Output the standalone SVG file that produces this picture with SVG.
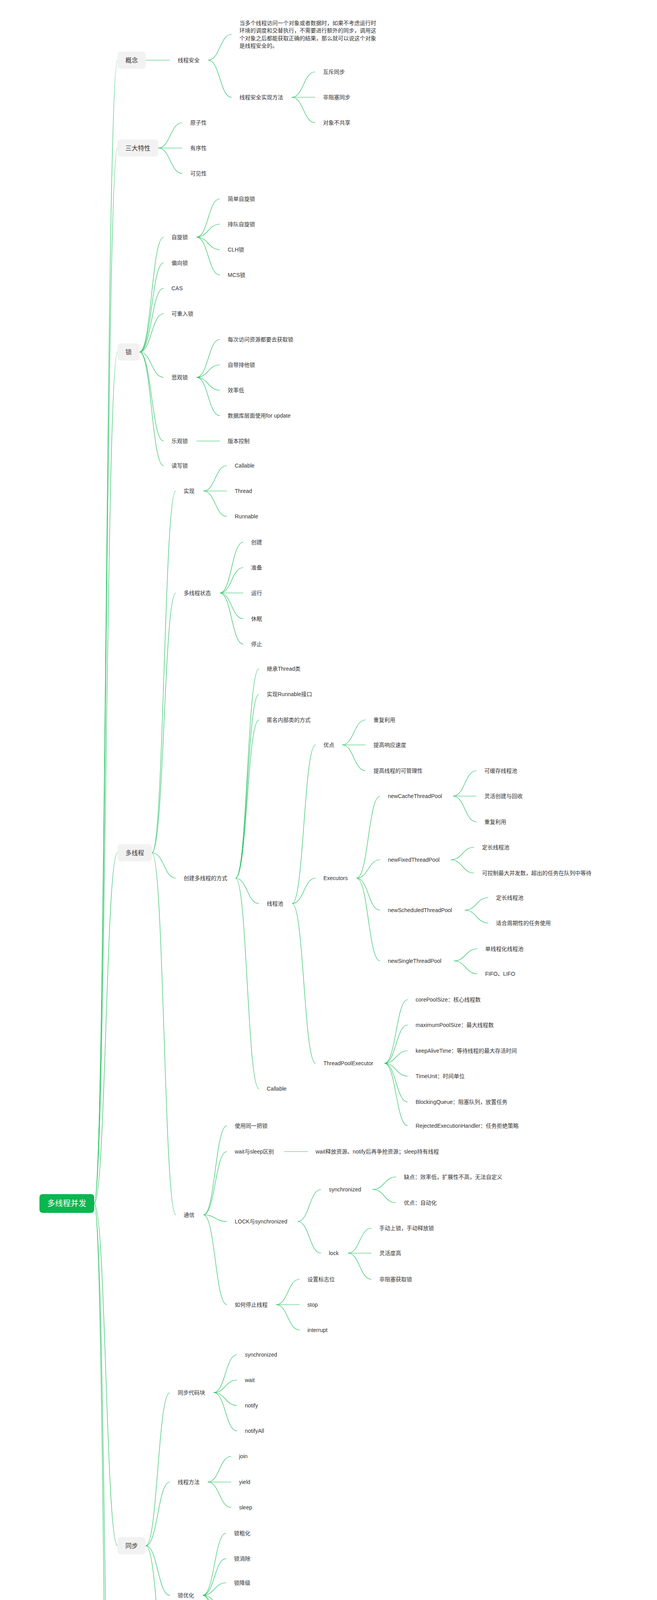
<svg xmlns="http://www.w3.org/2000/svg" width="1682" height="6107" viewBox="0 0 1682 6107">
<style>
text{font-family:"Liberation Sans","Noto Sans CJK SC",sans-serif;font-size:14px;fill:#333;dominant-baseline:central}
.box{fill:#f2f2f2}
.bt{font-size:16px}
.root{fill:#0bb650}
.rt{font-size:20px;fill:#fff}
#connectors path{fill:none;stroke:#22c05e;stroke-width:1.2}
</style>
<rect width="1682" height="6107" fill="#fff"/>
<g id="connectors">
<path d="M241 3081C271 3081 271 154 301 154"/>
<path d="M241 3081C271 3081 271 379 301 379"/>
<path d="M241 3081C271 3081 271 901 301 901"/>
<path d="M241 3081C271 3081 271 2183 301 2183"/>
<path d="M241 3081C271 3081 271 3957 301 3957"/>
<path d="M241 3081C271 3081 271 5255 301 5255"/>
<path d="M241 3081C271 3081 271 5995 301 5995"/>
<path d="M373 154H435"/>
<path d="M533 154C563 154 563 88 593 88"/>
<path d="M533 154C563 154 563 249 593 249"/>
<path d="M747 249C777 249 777 184 807 184"/>
<path d="M747 249H807"/>
<path d="M747 249C777 249 777 314 807 314"/>
<path d="M405 379C436 379 436 314 467 314"/>
<path d="M405 379H467"/>
<path d="M405 379C436 379 436 444 467 444"/>
<path d="M357 901C388 901 388 607 419 607"/>
<path d="M357 901C388 901 388 673 419 673"/>
<path d="M357 901C388 901 388 738 419 738"/>
<path d="M357 901C388 901 388 803 419 803"/>
<path d="M357 901C388 901 388 966 419 966"/>
<path d="M357 901C388 901 388 1129 419 1129"/>
<path d="M357 901C388 901 388 1192 419 1192"/>
<path d="M503 607C533 607 533 509 563 509"/>
<path d="M503 607C533 607 533 574 563 574"/>
<path d="M503 607C533 607 533 639 563 639"/>
<path d="M503 607C533 607 533 704 563 704"/>
<path d="M503 966C533 966 533 869 563 869"/>
<path d="M503 966C533 966 533 934 563 934"/>
<path d="M503 966C533 966 533 999 563 999"/>
<path d="M503 966C533 966 533 1064 563 1064"/>
<path d="M503 1129H563"/>
<path d="M389 2183C420 2183 420 1257 450 1257"/>
<path d="M389 2183C420 2183 420 1518 450 1518"/>
<path d="M389 2183C420 2183 420 2248 450 2248"/>
<path d="M389 2183C420 2183 420 3110 450 3110"/>
<path d="M521 1257C551 1257 551 1192 581 1192"/>
<path d="M521 1257H581"/>
<path d="M521 1257C551 1257 551 1322 581 1322"/>
<path d="M563 1518C593 1518 593 1388 623 1388"/>
<path d="M563 1518C593 1518 593 1453 623 1453"/>
<path d="M563 1518H623"/>
<path d="M563 1518C593 1518 593 1584 623 1584"/>
<path d="M563 1518C593 1518 593 1649 623 1649"/>
<path d="M603 2248C633 2248 633 1712 663 1712"/>
<path d="M603 2248C633 2248 633 1777 663 1777"/>
<path d="M603 2248C633 2248 633 1843 663 1843"/>
<path d="M603 2248C633 2248 633 2313 663 2313"/>
<path d="M603 2248C633 2248 633 2787 663 2787"/>
<path d="M748 2313C778 2313 778 1907 808 1907"/>
<path d="M748 2313C778 2313 778 2248 808 2248"/>
<path d="M748 2313C778 2313 778 2722 808 2722"/>
<path d="M876 1907C906 1907 906 1843 936 1843"/>
<path d="M876 1907H936"/>
<path d="M876 1907C906 1907 906 1973 936 1973"/>
<path d="M913 2248C943 2248 943 2038 973 2038"/>
<path d="M913 2248C943 2248 943 2201 973 2201"/>
<path d="M913 2248C943 2248 943 2330 973 2330"/>
<path d="M913 2248C943 2248 943 2460 973 2460"/>
<path d="M1160 2038C1190 2038 1190 1973 1220 1973"/>
<path d="M1160 2038H1220"/>
<path d="M1160 2038C1190 2038 1190 2104 1220 2104"/>
<path d="M1154 2201C1184 2201 1184 2169 1214 2169"/>
<path d="M1154 2201C1184 2201 1184 2235 1214 2235"/>
<path d="M1190 2330C1220 2330 1220 2298 1250 2298"/>
<path d="M1190 2330C1220 2330 1220 2363 1250 2363"/>
<path d="M1162 2460C1192 2460 1192 2429 1222 2429"/>
<path d="M1162 2460C1192 2460 1192 2493 1222 2493"/>
<path d="M984 2722C1014 2722 1014 2559 1044 2559"/>
<path d="M984 2722C1014 2722 1014 2624 1044 2624"/>
<path d="M984 2722C1014 2722 1014 2690 1044 2690"/>
<path d="M984 2722C1014 2722 1014 2755 1044 2755"/>
<path d="M984 2722C1014 2722 1014 2821 1044 2821"/>
<path d="M984 2722C1014 2722 1014 2882 1044 2882"/>
<path d="M521 3110C551 3110 551 2882 581 2882"/>
<path d="M521 3110C551 3110 551 2948 581 2948"/>
<path d="M521 3110C551 3110 551 3127 581 3127"/>
<path d="M521 3110C551 3110 551 3340 581 3340"/>
<path d="M728 2948H788"/>
<path d="M762 3127C792 3127 792 3045 822 3045"/>
<path d="M762 3127C792 3127 792 3208 822 3208"/>
<path d="M954 3045C984 3045 984 3013 1014 3013"/>
<path d="M954 3045C984 3045 984 3079 1014 3079"/>
<path d="M891 3208C921 3208 921 3144 951 3144"/>
<path d="M891 3208H951"/>
<path d="M891 3208C921 3208 921 3275 951 3275"/>
<path d="M707 3340C737 3340 737 3275 767 3275"/>
<path d="M707 3340H767"/>
<path d="M707 3340C737 3340 737 3405 767 3405"/>
<path d="M373 3957C404 3957 404 3565 435 3565"/>
<path d="M373 3957C404 3957 404 3794 435 3794"/>
<path d="M373 3957C404 3957 404 4084 435 4084"/>
<path d="M373 3957C404 3957 404 4346 435 4346"/>
<path d="M547 3565C577 3565 577 3468 607 3468"/>
<path d="M547 3565C577 3565 577 3533 607 3533"/>
<path d="M547 3565C577 3565 577 3598 607 3598"/>
<path d="M547 3565C577 3565 577 3663 607 3663"/>
<path d="M532 3794C562 3794 562 3728 592 3728"/>
<path d="M532 3794H592"/>
<path d="M532 3794C562 3794 562 3859 592 3859"/>
<path d="M519 4084C549 4084 549 3925 579 3925"/>
<path d="M519 4084C549 4084 549 3990 579 3990"/>
<path d="M519 4084C549 4084 549 4052 579 4052"/>
<path d="M519 4084C549 4084 549 4117 579 4117"/>
<path d="M519 4084C549 4084 549 4183 579 4183"/>
<path d="M519 4084C549 4084 549 4248 579 4248"/>
<path d="M525 4346C555 4346 555 4314 585 4314"/>
<path d="M525 4346C555 4346 555 4379 585 4379"/>
<path d="M371 5255C401 5255 401 4572 432 4572"/>
<path d="M371 5255C401 5255 401 4866 432 4866"/>
<path d="M371 5255C401 5255 401 5125 432 5125"/>
<path d="M371 5255C401 5255 401 5288 432 5288"/>
<path d="M371 5255C401 5255 401 5599 432 5599"/>
<path d="M371 5255C401 5255 401 5928 432 5928"/>
<path d="M532 4572C562 4572 562 4444 592 4444"/>
<path d="M532 4572C562 4572 562 4510 592 4510"/>
<path d="M532 4572H592"/>
<path d="M532 4572C562 4572 562 4638 592 4638"/>
<path d="M532 4572C562 4572 562 4703 592 4703"/>
<path d="M545 4866C575 4866 575 4768 605 4768"/>
<path d="M545 4866C575 4866 575 4834 605 4834"/>
<path d="M545 4866C575 4866 575 4899 605 4899"/>
<path d="M545 4866C575 4866 575 4964 605 4964"/>
<path d="M688 4768H748"/>
<path d="M892 4768C922 4768 922 4735 952 4735"/>
<path d="M892 4768C922 4768 922 4800 952 4800"/>
<path d="M508 5125C538 5125 538 5030 568 5030"/>
<path d="M508 5125C538 5125 538 5093 568 5093"/>
<path d="M508 5125C538 5125 538 5157 568 5157"/>
<path d="M508 5125C538 5125 538 5223 568 5223"/>
<path d="M508 5599C538 5599 538 5354 568 5354"/>
<path d="M508 5599C538 5599 538 5484 568 5484"/>
<path d="M508 5599C538 5599 538 5643 568 5643"/>
<path d="M508 5599C538 5599 538 5706 568 5706"/>
<path d="M508 5599C538 5599 538 5770 568 5770"/>
<path d="M508 5599C538 5599 538 5833 568 5833"/>
<path d="M726 5354C756 5354 756 5321 786 5321"/>
<path d="M726 5354C756 5354 756 5386 786 5386"/>
<path d="M691 5484C721 5484 721 5452 751 5452"/>
<path d="M691 5484C721 5484 721 5516 751 5516"/>
<path d="M686 5643C716 5643 716 5582 746 5582"/>
<path d="M686 5643H746"/>
<path d="M686 5643C716 5643 716 5706 746 5706"/>
<path d="M502 5928C532 5928 532 5896 562 5896"/>
<path d="M502 5928C532 5928 532 5960 562 5960"/>
</g>
<g id="root"><rect class="root" x="101" y="3057" width="140" height="48" rx="8"/><text class="rt" x="121" y="3081">多线程并发</text></g>
<g id="gainian"><rect class="box" x="301" y="132" width="72" height="44" rx="8"/><text class="bt" x="321" y="154">概念</text></g>
<g id="sanda"><rect class="box" x="301" y="357" width="104" height="44" rx="8"/><text class="bt" x="321" y="379">三大特性</text></g>
<g id="suo"><rect class="box" x="301" y="879" width="56" height="44" rx="8"/><text class="bt" x="321" y="901">锁</text></g>
<g id="duoxiancheng"><rect class="box" x="301" y="2161" width="88" height="44" rx="8"/><text class="bt" x="321" y="2183">多线程</text></g>
<g id="tongbu"><rect class="box" x="301" y="3935" width="72" height="44" rx="8"/><text class="bt" x="321" y="3957">同步</text></g>
<g id="juc"><rect class="box" x="301" y="5233" width="70" height="44" rx="8"/><text class="bt" x="321" y="5255">JUC</text></g>
<g id="xinzeng"><rect class="box" x="301" y="5973" width="104" height="44" rx="8"/><text class="bt" x="321" y="5995">新增节点</text></g>
<g id="n-xcaq"><text x="455" y="154">线程安全</text></g>
<g id="n-def"><text x="613" y="59">当多个线程访问一个对象或者数据时，如果不考虑运行时</text><text x="613" y="78">环境的调度和交替执行，不需要进行额外的同步，调用这</text><text x="613" y="98">个对象之后都能获取正确的结果，那么就可以说这个对象</text><text x="613" y="117">是线程安全的。</text></g>
<g id="n-sxff"><text x="613" y="249">线程安全实现方法</text></g>
<g id="n-hctb"><text x="827" y="184">互斥同步</text></g>
<g id="n-fzstb"><text x="827" y="249">非阻塞同步</text></g>
<g id="n-dxbgx"><text x="827" y="314">对象不共享</text></g>
<g id="n-yzx"><text x="487" y="314">原子性</text></g>
<g id="n-yxx"><text x="487" y="379">有序性</text></g>
<g id="n-kjx"><text x="487" y="444">可见性</text></g>
<g id="n-zxs"><text x="439" y="607">自旋锁</text></g>
<g id="n-pxs"><text x="439" y="673">偏向锁</text></g>
<g id="n-cas"><text x="439" y="738">CAS</text></g>
<g id="n-kcrs"><text x="439" y="803">可重入锁</text></g>
<g id="n-bgs"><text x="439" y="966">悲观锁</text></g>
<g id="n-lgs"><text x="439" y="1129">乐观锁</text></g>
<g id="n-dxs"><text x="439" y="1192">读写锁</text></g>
<g id="n-jdzxs"><text x="583" y="509">简单自旋锁</text></g>
<g id="n-pdzxs"><text x="583" y="574">排队自旋锁</text></g>
<g id="n-clh"><text x="583" y="639">CLH锁</text></g>
<g id="n-mcs"><text x="583" y="704">MCS锁</text></g>
<g id="n-mcfw"><text x="583" y="869">每次访问资源都要去获取锁</text></g>
<g id="n-zdpts"><text x="583" y="934">自带排他锁</text></g>
<g id="n-xld"><text x="583" y="999">效率低</text></g>
<g id="n-sjk"><text x="583" y="1064">数据库层面使用for update</text></g>
<g id="n-bbkz"><text x="583" y="1129">版本控制</text></g>
<g id="n-sx1"><text x="470" y="1257">实现</text></g>
<g id="n-dxczt"><text x="470" y="1518">多线程状态</text></g>
<g id="n-cjfs"><text x="470" y="2248">创建多线程的方式</text></g>
<g id="n-tx"><text x="470" y="3110">通信</text></g>
<g id="n-callable1"><text x="601" y="1192">Callable</text></g>
<g id="n-thread"><text x="601" y="1257">Thread</text></g>
<g id="n-runnable"><text x="601" y="1322">Runnable</text></g>
<g id="n-cj"><text x="643" y="1388">创建</text></g>
<g id="n-zb"><text x="643" y="1453">准备</text></g>
<g id="n-yx"><text x="643" y="1518">运行</text></g>
<g id="n-xm"><text x="643" y="1584">休眠</text></g>
<g id="n-tz"><text x="643" y="1649">停止</text></g>
<g id="n-jc"><text x="683" y="1712">继承Thread类</text></g>
<g id="n-sxr"><text x="683" y="1777">实现Runnable接口</text></g>
<g id="n-nmnb"><text x="683" y="1843">匿名内部类的方式</text></g>
<g id="n-xcc"><text x="683" y="2313">线程池</text></g>
<g id="n-callable2"><text x="683" y="2787">Callable</text></g>
<g id="n-yd"><text x="828" y="1907">优点</text></g>
<g id="n-executors1"><text x="828" y="2248">Executors</text></g>
<g id="n-tpe"><text x="828" y="2722">ThreadPoolExecutor</text></g>
<g id="n-cfly1"><text x="956" y="1843">重复利用</text></g>
<g id="n-tgxy"><text x="956" y="1907">提高响应速度</text></g>
<g id="n-tgkgl"><text x="956" y="1973">提高线程的可管理性</text></g>
<g id="n-ncache"><text x="993" y="2038">newCacheThreadPool</text></g>
<g id="n-nfixed"><text x="993" y="2201">newFixedThreadPool</text></g>
<g id="n-nsched"><text x="993" y="2330">newScheduledThreadPool</text></g>
<g id="n-nsingle"><text x="993" y="2460">newSingleThreadPool</text></g>
<g id="n-khc"><text x="1240" y="1973">可缓存线程池</text></g>
<g id="n-lhcj"><text x="1240" y="2038">灵活创建与回收</text></g>
<g id="n-cfly2"><text x="1240" y="2104">重复利用</text></g>
<g id="n-dc1"><text x="1234" y="2169">定长线程池</text></g>
<g id="n-kkz"><text x="1234" y="2235">可控制最大并发数，超出的任务在队列中等待</text></g>
<g id="n-dc2"><text x="1270" y="2298">定长线程池</text></g>
<g id="n-shzq"><text x="1270" y="2363">适合周期性的任务使用</text></g>
<g id="n-dxch"><text x="1242" y="2429">单线程化线程池</text></g>
<g id="n-fifo"><text x="1242" y="2493">FIFO、LIFO</text></g>
<g id="n-core"><text x="1064" y="2559">corePoolSize：核心线程数</text></g>
<g id="n-max"><text x="1064" y="2624">maximumPoolSize：最大线程数</text></g>
<g id="n-keep"><text x="1064" y="2690">keepAliveTime：等待线程的最大存活时间</text></g>
<g id="n-tu"><text x="1064" y="2755">TimeUnit：时间单位</text></g>
<g id="n-bq1"><text x="1064" y="2821">BlockingQueue：阻塞队列，放置任务</text></g>
<g id="n-reh1"><text x="1064" y="2882">RejectedExecutionHandler：任务拒绝策略</text></g>
<g id="n-sytyb"><text x="601" y="2882">使用同一把锁</text></g>
<g id="n-wsqb"><text x="601" y="2948">wait与sleep区别</text></g>
<g id="n-lock-sync"><text x="601" y="3127">LOCK与synchronized</text></g>
<g id="n-rhtz"><text x="601" y="3340">如何停止线程</text></g>
<g id="n-wsfz"><text x="808" y="2948">wait释放资源、notify后再争抢资源；sleep持有线程</text></g>
<g id="n-sync1"><text x="842" y="3045">synchronized</text></g>
<g id="n-lock"><text x="842" y="3208">lock</text></g>
<g id="n-qd"><text x="1034" y="3013">缺点：效率低，扩展性不高，无法自定义</text></g>
<g id="n-ydzd"><text x="1034" y="3079">优点：自动化</text></g>
<g id="n-sdss"><text x="971" y="3144">手动上锁，手动释放锁</text></g>
<g id="n-lhdg"><text x="971" y="3208">灵活度高</text></g>
<g id="n-fzshq"><text x="971" y="3275">非阻塞获取锁</text></g>
<g id="n-szbzw"><text x="787" y="3275">设置标志位</text></g>
<g id="n-stop"><text x="787" y="3340">stop</text></g>
<g id="n-interrupt"><text x="787" y="3405">interrupt</text></g>
<g id="n-tbdmk"><text x="455" y="3565">同步代码块</text></g>
<g id="n-xcff"><text x="455" y="3794">线程方法</text></g>
<g id="n-syh"><text x="455" y="4084">锁优化</text></g>
<g id="n-volatile"><text x="455" y="4346">volatile</text></g>
<g id="n-sync2"><text x="627" y="3468">synchronized</text></g>
<g id="n-wait"><text x="627" y="3533">wait</text></g>
<g id="n-notify"><text x="627" y="3598">notify</text></g>
<g id="n-notifyall"><text x="627" y="3663">notifyAll</text></g>
<g id="n-join"><text x="612" y="3728">join</text></g>
<g id="n-yield"><text x="612" y="3794">yield</text></g>
<g id="n-sleep"><text x="612" y="3859">sleep</text></g>
<g id="n-scx"><text x="599" y="3925">锁粗化</text></g>
<g id="n-sxc"><text x="599" y="3990">锁消除</text></g>
<g id="n-sjj"><text x="599" y="4052">锁降级</text></g>
<g id="n-pxs2"><text x="599" y="4117">偏向锁</text></g>
<g id="n-zxzsy"><text x="599" y="4183">自旋锁、自适应锁</text></g>
<g id="n-zljs"><text x="599" y="4248">重量级锁</text></g>
<g id="n-tgnc"><text x="605" y="4314">通过内存屏障实现</text></g>
<g id="n-zbz"><text x="605" y="4379">只保证有序、可见，不保证原子性</text></g>
<g id="n-executor"><text x="452" y="4572">executor</text></g>
<g id="n-collections"><text x="452" y="4866">collections</text></g>
<g id="n-locks"><text x="452" y="5125">locks</text></g>
<g id="n-atomicy"><text x="452" y="5288">atomicy原子类相关</text></g>
<g id="n-tools"><text x="452" y="5599">tools</text></g>
<g id="n-sx2"><text x="452" y="5928">实现</text></g>
<g id="n-future"><text x="612" y="4444">Future</text></g>
<g id="n-callable3"><text x="612" y="4510">Callable</text></g>
<g id="n-exes"><text x="612" y="4572">Executor，ExecutorService、ThreadpoolExecutor</text></g>
<g id="n-cs"><text x="612" y="4638">CompletionService</text></g>
<g id="n-reh2"><text x="612" y="4703">RejectedExecutionHandler</text></g>
<g id="n-queue"><text x="625" y="4768">queue</text></g>
<g id="n-cowas"><text x="625" y="4834">CopyOnWriteArraySet</text></g>
<g id="n-cowal"><text x="625" y="4899">CopyOnWriteArrayList</text></g>
<g id="n-cm"><text x="625" y="4964">ConcurrentMap</text></g>
<g id="n-bq2"><text x="768" y="4768">BlockingQueue</text></g>
<g id="n-lbq"><text x="972" y="4735">LinkedBlockingQueue</text></g>
<g id="n-abq"><text x="972" y="4800">ArrayBlockingQueue</text></g>
<g id="n-rl"><text x="588" y="5030">Lock,ReentrantLock</text></g>
<g id="n-cond"><text x="588" y="5093">Condition</text></g>
<g id="n-rwl"><text x="588" y="5157">ReadWriteLock,ReentrantReadWriteLock</text></g>
<g id="n-aqs1"><text x="588" y="5223">AbstractQueueSynchronizer</text></g>
<g id="n-cdl"><text x="588" y="5354">CountDownLatch</text></g>
<g id="n-cb"><text x="588" y="5484">CyclicBarrier</text></g>
<g id="n-sem"><text x="588" y="5643">Semaphore</text></g>
<g id="n-executors2"><text x="588" y="5706">Executors</text></g>
<g id="n-exch"><text x="588" y="5770">Exchanger</text></g>
<g id="n-tl"><text x="588" y="5833">ThreadLocal</text></g>
<g id="n-countdown"><text x="806" y="5321">countDown：对任务数减一</text></g>
<g id="n-await1"><text x="806" y="5386">await：一直等待，直到任务数为0</text></g>
<g id="n-syxc"><text x="771" y="5452">所有线程执行完毕放行</text></g>
<g id="n-await2"><text x="771" y="5516">await</text></g>
<g id="n-acquire"><text x="766" y="5582">acquire：获取资源</text></g>
<g id="n-release"><text x="766" y="5643">release：释放资源</text></g>
<g id="n-permits"><text x="766" y="5706">avaliblePermits：许可数</text></g>
<g id="n-aqs2"><text x="582" y="5896">AQS</text></g>
<g id="n-lsp"><text x="582" y="5960">LockSupport.park/unpark</text></g>
</svg>
